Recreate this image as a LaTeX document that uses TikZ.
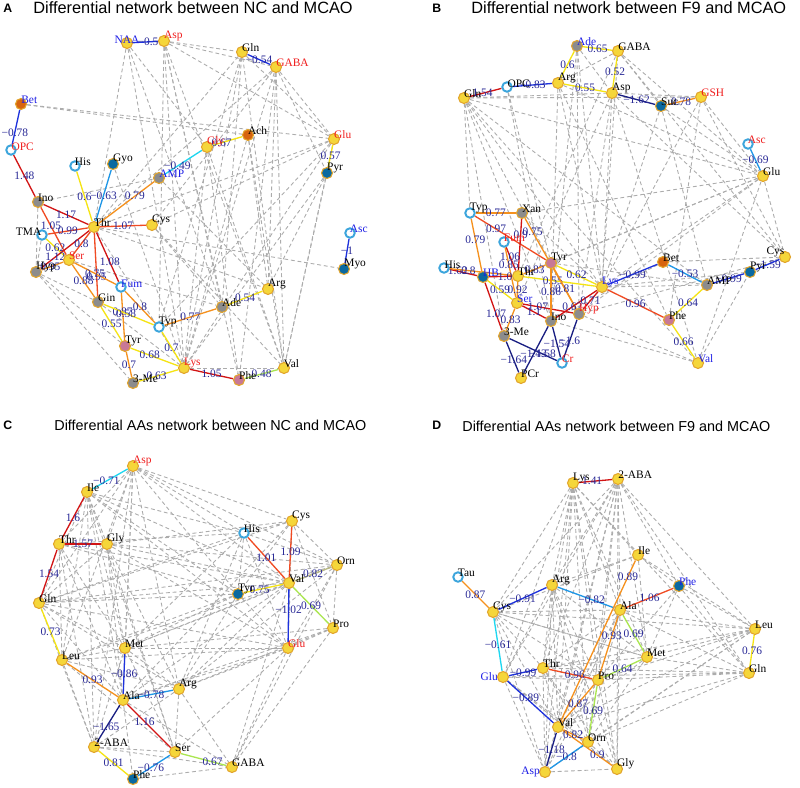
\documentclass[tikz,border=0pt]{standalone}
\usepackage{fontspec}
\setmainfont{Liberation Serif}
\setsansfont{Liberation Sans}
\usepackage{xcolor}
\usepackage{tikz}
\usetikzlibrary{backgrounds}

\definecolor{nodeyel}{RGB}{245,214,58}
\definecolor{nodeedge}{RGB}{226,165,45}
\definecolor{nodering}{RGB}{60,165,220}
\definecolor{nodegray}{RGB}{140,140,140}
\definecolor{nodeblue}{RGB}{10,105,160}
\definecolor{nodeorg}{RGB}{215,100,15}
\definecolor{nodepink}{RGB}{200,120,150}
\definecolor{labred}{RGB}{240,30,30}
\definecolor{labblue}{RGB}{30,30,230}
\definecolor{valblue}{RGB}{40,40,150}
\definecolor{ered}{RGB}{210,20,20}
\definecolor{eredorg}{RGB}{240,75,35}
\definecolor{eorg}{RGB}{245,145,30}
\definecolor{eyel}{RGB}{245,228,20}
\definecolor{egreen}{RGB}{170,230,80}
\definecolor{eolive}{RGB}{185,185,130}
\definecolor{ecyan}{RGB}{30,215,240}
\definecolor{elblue}{RGB}{30,150,230}
\definecolor{eblue}{RGB}{30,50,220}
\definecolor{enavy}{RGB}{25,30,130}

\begin{document}
\begin{tikzpicture}[
  x=0.02cm, y=-0.02cm,
  met/.style={circle, draw=nodeedge, line width=0.6pt, minimum size=0.22cm, inner sep=0pt},
  ny/.style={met, fill=nodeyel},
  ng/.style={met, fill=nodegray},
  nb/.style={met, fill=nodeblue},
  no/.style={met, fill=nodeorg},
  np/.style={met, fill=nodepink},
  nr/.style={met, draw=nodering, line width=1.1pt, fill=white, minimum size=0.19cm},
  every label/.style={font=\fontsize{6.5}{7}\selectfont, inner sep=0.3pt},
  label position=45, label distance=-4pt,
  lr/.style={text=labred}, lb/.style={text=labblue},
  gl/.style={draw=gray!65, line width=0.5pt, dash pattern=on 2.2pt off 1.6pt},
  cor/.style={line width=0.75pt},
  val/.style={font=\fontsize{6.5}{7}\selectfont, text=valblue, inner sep=0.5pt},
  title/.style={font=\sffamily\fontsize{9.3}{10}\selectfont, anchor=base west, inner sep=0pt},
  subtitle/.style={font=\sffamily\fontsize{8.2}{9}\selectfont, anchor=base west, inner sep=0pt},
  tag/.style={font=\sffamily\bfseries\fontsize{7}{8}\selectfont, anchor=base west, inner sep=0pt}
]
\useasboundingbox (0,0) rectangle (800,787);

% Titles
\node[tag] (tagA) at (3,13) {A};
\node[title] (ttlA) at (33,14) {Differential network between NC and MCAO};
\node[tag] (tagB) at (432,13) {B};
\node[title] (ttlB) at (471,14) {Differential network between F9 and MCAO};
\node[tag] (tagC) at (3,429) {C};
\node[subtitle] (ttlC) at (54,430) {Differential AAs network between NC and MCAO};
\node[tag] (tagD) at (432,429) {D};
\node[subtitle] (ttlD) at (462,431) {Differential AAs network between F9 and MCAO};

% Panel A nodes
\node[ny, label={[lb]90:NAA}] (aNAA) at (127,43) {};
\node[ny, label={[lr]Asp}] (aAsp) at (164,41) {};
\node[ny, label={Gln}] (aGln) at (242,52) {};
\node[ny, label={[lr]60:GABA}] (aGABA) at (276,67) {};
\node[no, label={[lb]60:Bet}] (aBet) at (21,104) {};
\node[nr, label={[lr]75:OPC}] (aOPC) at (11,150) {};
\node[no, label={Ach}] (aAch) at (248,135) {};
\node[ny, label={[lr]30:Gly}] (aGly) at (207,147) {};
\node[ny, label={[lr]Glu}] (aGlu) at (334,139) {};
\node[nr, label={His}] (aHis) at (75,166) {};
\node[nb, label={Gyo}] (aGyo) at (113,164) {};
\node[ng, label={[lb]60:AMP}] (aAMP) at (159,178) {};
\node[nb, label={Pyr}] (aPyr) at (327,173) {};
\node[ng, label={Ino}] (aIno) at (38,202) {};
\node[ny, label={Thr}] (aThr) at (94,227) {};
\node[ny, label={Cys}] (aCys) at (152,225) {};
\node[nr, label={100:TMA}] (aTMA) at (42,235) {};
\node[ny, label={[lr]30:Ser}] (aSer) at (69,260) {};
\node[ng, label={60:Hyp}] (aHyp) at (36,272) {};
\node[nr, label={[lb]60:Fum}] (aFum) at (121,287) {};
\node[ng, label={Gin}] (aGin) at (98,302) {};
\node[nr, label={Typ}] (aTyp) at (159,327) {};
\node[ng, label={Ade}] (aAde) at (222,307) {};
\node[ny, label={Arg}] (aArg) at (268,289) {};
\node[np, label={Tyr}] (aTyr) at (125,346) {};
\node[ng, label={3-Me}] (aMe) at (133,383) {};
\node[ny, label={[lr]Lys}] (aLys) at (184,368) {};
\node[np, label={Phe}] (aPhe) at (239,380) {};
\node[ny, label={15:Val}] (aVal) at (284,368) {};
\node[nr, label={[lb]Asc}] (aAsc) at (350,233) {};
\node[nb, label={60:Myo}] (aMyo) at (344,269) {};

% Panel B nodes
\node[ng, label={[lb]Ade}] (bAde) at (577,46) {};
\node[ny, label={60:GABA}] (bGABA) at (618,51) {};
\node[nr, label={75:OPC}] (bOPC) at (507,87) {};
\node[ny, label={Arg}] (bArg) at (558,83) {};
\node[ny, label={Gln}] (bGln) at (464,98) {};
\node[ny, label={Asp}] (bAsp) at (612,93) {};
\node[nb, label={Suc}] (bSuc) at (661,106) {};
\node[ny, label={[lr]60:GSH}] (bGSH) at (701,97) {};
\node[nr, label={[lr]Asc}] (bAsc) at (748,144) {};
\node[ny, label={Glu}] (bGlu) at (763,176) {};
\node[nr, label={Typ}] (bTyp) at (470,213) {};
\node[ng, label={Xan}] (bXan) at (522,213) {};
\node[nr, label={[lr]Fum}] (bFum) at (504,242) {};
\node[np, label={Tyr}] (bTyr) at (551,263) {};
\node[nr, label={75:His}] (bHis) at (444,268) {};
\node[nb, label={[lb]HB}] (bHB) at (483,277) {};
\node[ny, label={Thr}] (bThr) at (518,276) {};
\node[ny, label={[lb]Lys}] (bLys) at (602,287) {};
\node[no, label={Bet}] (bBet) at (663,262) {};
\node[ng, label={AMP}] (bAMP) at (707,285) {};
\node[nb, label={Pyr}] (bPyr) at (750,272) {};
\node[ny, label={100:Cys}] (bCys) at (785,257) {};
\node[ny, label={[lb]Ser}] (bSer) at (517,303) {};
\node[ng, label={[lr]Hyp}] (bHyp) at (579,314) {};
\node[ng, label={Ino}] (bIno) at (551,321) {};
\node[ng, label={3-Me}] (bMe) at (504,336) {};
\node[np, label={Phe}] (bPhe) at (669,320) {};
\node[nr, label={[lr]Cr}] (bCr) at (562,363) {};
\node[ny, label={PCr}] (bPCr) at (521,378) {};
\node[ny, label={[lb]Val}] (bVal) at (698,363) {};

% Panel C nodes
\node[ny, label={[lr]Asp}] (cAsp) at (133,466) {};
\node[ny, label={Ile}] (cIle) at (87,492) {};
\node[ny, label={Cys}] (cCys) at (292,521) {};
\node[nr, label={His}] (cHis) at (244,533) {};
\node[ny, label={Thr}] (cThr) at (59,544) {};
\node[ny, label={Gly}] (cGly) at (107,544) {};
\node[ny, label={Orn}] (cOrn) at (337,565) {};
\node[ny, label={Val}] (cVal) at (289,583) {};
\node[nb, label={Tyr}] (cTyr) at (238,594) {};
\node[ny, label={Gln}] (cGln) at (39,603) {};
\node[ny, label={Pro}] (cPro) at (333,628) {};
\node[ny, label={[lr]Glu}] (cGlu) at (288,648) {};
\node[ny, label={Met}] (cMet) at (125,648) {};
\node[ny, label={Leu}] (cLeu) at (62,660) {};
\node[ny, label={Arg}] (cArg) at (179,689) {};
\node[ny, label={Ala}] (cAla) at (123,700) {};
\node[ny, label={60:2-ABA}] (cABA) at (94,747) {};
\node[ny, label={Ser}] (cSer) at (175,752) {};
\node[ny, label={GABA}] (cGABA) at (232,767) {};
\node[nb, label={Phe}] (cPhe) at (133,779) {};

% Panel D nodes
\node[ny, label={Lys}] (dLys) at (573,483) {};
\node[ny, label={60:2-ABA}] (dABA) at (618,479) {};
\node[ny, label={Ile}] (dIle) at (638,555) {};
\node[nr, label={Tau}] (dTau) at (458,577) {};
\node[ny, label={Arg}] (dArg) at (552,585) {};
\node[nb, label={[lb]Phe}] (dPhe) at (679,586) {};
\node[ny, label={Cys}] (dCys) at (493,612) {};
\node[ny, label={Ala}] (dAla) at (620,610) {};
\node[ny, label={Leu}] (dLeu) at (755,629) {};
\node[ny, label={Met}] (dMet) at (647,657) {};
\node[ny, label={Gln}] (dGln) at (749,673) {};
\node[ny, label={Thr}] (dThr) at (543,668) {};
\node[ny, label={[lb, xshift=-3pt]180:Glu}] (dGlu) at (503,677) {};
\node[ny, label={Pro}] (dPro) at (598,680) {};
\node[ny, label={Val}] (dVal) at (558,727) {};
\node[ny, label={Orn}] (dOrn) at (588,742) {};
\node[ny, label={[lb, xshift=-3pt]180:Asp}] (dAsp) at (545,772) {};
\node[ny, label={Gly}] (dGly) at (617,769) {};

\begin{scope}[on background layer]
\fill[white] (0,0) rectangle (800,787);

% Uncorrelated pairs (grey dashed)
\foreach \a/\b in {aNAA/aGly, aNAA/aLys, aNAA/aThr, aNAA/aAde, aAsp/aGln, aAsp/aGABA, aAsp/aLys, aAsp/aAde,
  aAsp/aVal, aAsp/aPhe, aAsp/aGlu, aAsp/aTyp, aGln/aGlu, aGln/aLys, aGln/aVal, aGln/aAde, aGln/aThr, aGln/aTyp,
  aGABA/aGlu, aGABA/aPyr, aGABA/aVal, aGABA/aArg, aGABA/aLys, aGABA/aThr, aGABA/aPhe, aGABA/aCys,
  aBet/aAch, aBet/aGlu, aAch/aVal, aAch/aArg, aAch/aLys, aGlu/aThr, aGlu/aLys, aGlu/aVal, aGlu/aTyp, aGlu/aCys,
  aPyr/aLys, aPyr/aVal, aPyr/aArg, aThr/aMyo, aThr/aLys, aThr/aArg, aIno/aHyp, aIno/aAMP, aHyp/aMe, aHyp/aTyr,
  aHyp/aGin, aTMA/aHyp, aGin/aLys, aSer/aAde, aGly/aLys, aGly/aVal, aGly/aPhe, aAMP/aArg, aGyo/aLys, aCys/aVal,
  aLys/aVal, aCys/aAde}
  \draw[gl] (\a) -- (\b);
\foreach \a/\b in {bGln/bGlu, bGln/bLys, bGln/bTyr, bGln/bMe, bGln/bIno, bGln/bAMP, bGln/bVal, bGln/bGSH, bGln/bAsp,
  bAde/bLys, bAde/bIno, bAde/bAsp, bAde/bHyp, bGABA/bLys, bGABA/bThr, bGABA/bGlu, bGABA/bCys, bGABA/bArg, bGABA/bSuc,
  bArg/bLys, bArg/bIno, bArg/bPhe, bArg/bGlu, bAsp/bLys, bAsp/bVal, bAsp/bCys, bAsp/bSer, bAsp/bHyp, bAsp/bGSH,
  bGSH/bGlu, bGSH/bLys, bGSH/bPhe, bGSH/bCys, bGlu/bLys, bGlu/bCys, bGlu/bThr, bGlu/bVal, bGlu/bHyp, bGlu/bTyr,
  bSuc/bGlu, bSuc/bLys, bSuc/bAMP, bTyr/bAMP, bXan/bGlu, bBet/bCys, bBet/bIno, bVal/bPyr, bVal/bHyp, bVal/bIno,
  bLys/bAMP, bLys/bPyr, bCys/bHyp, bXan/bLys, bOPC/bTyr, bOPC/bIno, bTyp/bGln}
  \draw[gl] (\a) -- (\b);
\foreach \a/\b in {cAsp/cGly, cAsp/cThr, cAsp/cGln, cAsp/cLeu, cAsp/cMet, cAsp/cAla, cAsp/cCys, cAsp/cHis, cAsp/cVal,
  cAsp/cOrn, cAsp/cTyr, cAsp/cArg, cAsp/cABA, cIle/cGly, cIle/cGln, cIle/cLeu, cIle/cMet, cIle/cAla, cIle/cHis,
  cIle/cVal, cIle/cTyr, cIle/cGlu, cIle/cABA, cIle/cSer, cThr/cLeu, cThr/cMet, cThr/cAla, cThr/cHis, cThr/cVal,
  cThr/cTyr, cThr/cABA, cGly/cGln, cGly/cMet, cGly/cAla, cGly/cCys, cGly/cOrn, cGly/cVal, cGly/cGlu, cGly/cSer,
  cGly/cArg, cCys/cHis, cCys/cOrn, cCys/cPro, cCys/cGlu, cCys/cAla, cCys/cTyr, cCys/cGln, cHis/cOrn, cHis/cTyr,
  cHis/cGlu, cHis/cArg, cHis/cMet, cHis/cGln, cOrn/cPro, cOrn/cGlu, cOrn/cTyr, cOrn/cArg, cOrn/cMet, cOrn/cGln,
  cOrn/cGABA, cVal/cMet, cVal/cArg, cVal/cAla, cVal/cGABA, cVal/cGln, cVal/cLeu, cTyr/cGlu, cTyr/cMet, cTyr/cArg,
  cTyr/cLeu, cTyr/cGln, cGln/cMet, cGln/cAla, cGln/cABA, cGln/cGlu, cGln/cArg, cPro/cGlu, cPro/cArg, cPro/cGABA,
  cPro/cAla, cPro/cMet, cGlu/cArg, cGlu/cMet, cGlu/cGABA, cGlu/cSer, cGlu/cAla, cMet/cLeu, cMet/cArg, cMet/cSer,
  cMet/cABA, cLeu/cABA, cLeu/cArg, cLeu/cSer, cLeu/cGlu, cArg/cABA, cArg/cSer, cArg/cGABA, cAla/cGABA, cAla/cPhe,
  cABA/cSer, cABA/cGABA, cPhe/cGABA}
  \draw[gl] (\a) -- (\b);
\foreach \a/\b in {dLys/dCys, dLys/dArg, dLys/dThr, dLys/dGlu, dLys/dPro, dLys/dVal, dLys/dOrn, dLys/dAsp, dLys/dGly,
  dLys/dMet, dLys/dGln, dLys/dAla, dLys/dIle, dABA/dArg, dABA/dThr, dABA/dGlu, dABA/dPro, dABA/dVal, dABA/dOrn,
  dABA/dAsp, dABA/dGly, dABA/dLeu, dABA/dGln, dABA/dMet, dABA/dPhe, dABA/dAla, dABA/dCys, dIle/dArg, dIle/dMet,
  dIle/dCys, dIle/dLeu, dIle/dPhe, dArg/dThr, dArg/dGlu, dArg/dPro, dArg/dVal, dArg/dOrn, dArg/dAsp, dArg/dGly,
  dArg/dMet, dCys/dThr, dCys/dAla, dCys/dLeu, dCys/dPro, dCys/dVal, dCys/dAsp, dCys/dMet, dAla/dThr, dAla/dLeu,
  dAla/dGln, dAla/dVal, dAla/dOrn, dAla/dAsp, dAla/dGly, dPhe/dLeu, dPhe/dMet, dPhe/dGln, dPhe/dPro, dLeu/dMet,
  dLeu/dThr, dLeu/dVal, dLeu/dOrn, dLeu/dAsp, dLeu/dPro, dGln/dMet, dGln/dPro, dGln/dVal, dGln/dOrn, dGln/dThr,
  dGln/dGlu, dMet/dThr, dMet/dVal, dMet/dOrn, dMet/dCys, dThr/dVal, dThr/dOrn, dThr/dAsp, dThr/dGly, dGlu/dPro,
  dGlu/dAsp, dGlu/dOrn, dGlu/dGly, dPro/dAsp, dPro/dGly, dAsp/dGly, dOrn/dGly}
  \draw[gl] (\a) -- (\b);

% Panel A differential pairs
\draw[cor, eblue] (aNAA) -- node[val, pos=0.6] {−0.5} (aAsp);
\draw[cor, eblue] (aGln) -- node[val] {−0.54} (aGABA);
\draw[cor, eblue] (aBet) -- node[val, pos=0.65] {−0.78} (aOPC);
\draw[cor, ered] (aOPC) -- node[val] {1.48} (aIno);
\draw[cor, eyel] (aGly) -- node[val, pos=0.3] {0.67} (aAch);
\draw[cor, ecyan] (aAMP) -- node[val, pos=0.35] {−0.49} (aGly);
\draw[cor, eyel] (aGlu) -- node[val] {0.57} (aPyr);
\draw[cor, eyel] (aHis) -- node[val] {0.6} (aThr);
\draw[cor, elblue] (aGyo) -- node[val] {−0.63} (aThr);
\draw[cor, eorg] (aAMP) -- node[val, pos=0.35] {0.79} (aThr);
\draw[cor, ered] (aIno) -- node[val] {1.17} (aThr);
\draw[cor, eredorg] (aIno) -- node[val, pos=0.4] {1.05} (aSer);
\draw[cor, eredorg] (aTMA) -- node[val] {0.99} (aThr);
\draw[cor, eyel] (aTMA) -- node[val] {0.62} (aSer);
\draw[cor, ered] (aHyp) -- node[val, pos=0.3] {1.12} (aThr);
\draw[cor, eorg] (aHyp) -- node[val, pos=0.4] {0.95} (aSer);
\draw[cor, eredorg] (aThr) -- node[val] {0.8} (aSer);
\draw[cor, eredorg] (aThr) -- node[val] {1.07} (aCys);
\draw[cor, ered] (aThr) -- node[val, pos=0.6] {1.08} (aFum);
\draw[cor, eredorg] (aThr) -- node[val, pos=0.7] {0.95} (aGin);
\draw[cor, eorg] (aSer) -- node[val] {0.88} (aGin);
\draw[cor, eorg] (aSer) -- node[val] {0.75} (aFum);
\draw[cor, eorg] (aFum) -- node[val] {0.8} (aTyp);
\draw[cor, eorg] (aFum) -- node[val, pos=0.4] {0.87} (aTyr);
\draw[cor, eyel] (aGin) -- node[val, pos=0.45] {0.58} (aTyp);
\draw[cor, eyel] (aGin) -- node[val] {0.55} (aTyr);
\draw[cor, eorg] (aTyr) -- node[val] {0.7} (aMe);
\draw[cor, eyel] (aTyr) -- node[val, pos=0.4] {0.68} (aLys);
\draw[cor, eyel] (aMe) -- node[val, pos=0.45] {0.63} (aLys);
\draw[cor, eyel] (aTyp) -- node[val] {0.7} (aLys);
\draw[cor, eorg] (aTyp) -- node[val] {0.77} (aAde);
\draw[cor, eyel] (aAde) -- node[val] {0.54} (aArg);
\draw[cor, ered] (aLys) -- node[val] {1.05} (aPhe);
\draw[cor, egreen] (aPhe) -- node[val] {0.48} (aVal);
\draw[cor, eblue] (aAsc) -- node[val] {−1} (aMyo);

% Panel B differential pairs
\draw[cor, eyel] (bAde) -- node[val] {0.65} (bGABA);
\draw[cor, eyel] (bAde) -- node[val] {0.6} (bArg);
\draw[cor, eyel] (bGABA) -- node[val] {0.52} (bAsp);
\draw[cor, ered] (bGln) -- node[val, pos=0.4] {1.54} (bOPC);
\draw[cor, eblue] (bOPC) -- node[val] {−0.83} (bArg);
\draw[cor, eyel] (bArg) -- node[val] {0.55} (bAsp);
\draw[cor, enavy] (bAsp) -- node[val] {−1.62} (bSuc);
\draw[cor, eorg] (bSuc) -- node[val] {0.78} (bGSH);
\draw[cor, elblue] (bAsc) -- node[val] {−0.69} (bGlu);
\draw[cor, eorg] (bTyp) -- node[val] {0.77} (bXan);
\draw[cor, eredorg] (bTyp) -- node[val, pos=0.3] {0.97} (bTyr);
\draw[cor, eorg] (bTyp) -- node[val, pos=0.4] {0.79} (bHB);
\draw[cor, ered] (bXan) -- node[val, pos=0.3] {0.9} (bThr);
\draw[cor, eorg] (bXan) -- node[val, pos=0.15] {0.75} (bHyp);
\draw[cor, ered] (bFum) -- node[val, pos=0.4] {1.06} (bThr);
\draw[cor, eorg] (bFum) -- node[val, pos=0.35] {0.85} (bSer);
\draw[cor, ered] (bHis) -- node[val, pos=0.3] {1.62} (bHB);
\draw[cor, eorg] (bHis) -- node[val, pos=0.3] {0.8} (bThr);
\draw[cor, ered] (bHB) -- node[val, pos=0.7] {1.0} (bThr);
\draw[cor, eorg] (bThr) -- node[val] {0.83} (bTyr);
\draw[cor, eyel] (bThr) -- node[val, pos=0.4] {0.55} (bLys);
\draw[cor, eyel] (bTyr) -- node[val] {0.62} (bLys);
\draw[cor, eorg] (bThr) -- node[val] {0.92} (bSer);
\draw[cor, eyel] (bHB) -- node[val] {0.59} (bSer);
\draw[cor, ered] (bHB) -- node[val, pos=0.65] {1.07} (bMe);
\draw[cor, eorg] (bSer) -- node[val] {0.83} (bMe);
\draw[cor, ered] (bSer) -- node[val, pos=0.3] {1.07} (bHyp);
\draw[cor, ered] (bSer) -- node[val] {1.1} (bIno);
\draw[cor, eorg] (bTyr) -- node[val] {0.86} (bIno);
\draw[cor, eorg] (bTyr) -- node[val] {0.81} (bHyp);
\draw[cor, ered] (bLys) -- node[val, pos=0.6] {0.62} (bIno);
\draw[cor, ered] (bLys) -- node[val] {0.71} (bHyp);
\draw[cor, eblue] (bLys) -- node[val] {−0.99} (bBet);
\draw[cor, eredorg] (bLys) -- node[val] {0.96} (bPhe);
\draw[cor, elblue] (bBet) -- node[val] {−0.53} (bAMP);
\draw[cor, eblue] (bAMP) -- node[val] {−0.99} (bPyr);
\draw[cor, eblue] (bPyr) -- node[val] {−1.59} (bCys);
\draw[cor, eyel] (bAMP) -- node[val] {0.64} (bPhe);
\draw[cor, eyel] (bPhe) -- node[val] {0.66} (bVal);
\draw[cor, enavy] (bMe) -- node[val, pos=0.6] {−1.64} (bPCr);
\draw[cor, enavy] (bMe) -- node[val, pos=0.7] {−1.58} (bCr);
\draw[cor, enavy] (bIno) -- node[val, pos=0.6] {−1.43} (bPCr);
\draw[cor, enavy] (bIno) -- node[val, pos=0.55] {−1.54} (bCr);
\draw[cor, enavy] (bHyp) -- node[val, pos=0.55] {−1.6} (bCr);

% Panel C differential pairs
\draw[cor, ecyan] (cAsp) -- node[val, pos=0.6] {−0.71} (cIle);
\draw[cor, ered] (cIle) -- node[val] {1.6} (cThr);
\draw[cor, ered] (cThr) -- node[val] {1.57} (cGly);
\draw[cor, ered] (cThr) -- node[val] {1.54} (cGln);
\draw[cor, eredorg] (cHis) -- node[val] {1.01} (cVal);
\draw[cor, eredorg] (cCys) -- node[val] {1.09} (cVal);
\draw[cor, eolive] (cVal) -- node[val] {0.82} (cOrn);
\draw[cor, eyel] (cTyr) -- node[val, pos=0.4] {0.75} (cVal);
\draw[cor, eblue] (cVal) -- node[val, pos=0.4] {−1.02} (cGlu);
\draw[cor, egreen] (cVal) -- node[val] {0.69} (cPro);
\draw[cor, eyel] (cGln) -- node[val] {0.73} (cLeu);
\draw[cor, eorg] (cLeu) -- node[val] {0.93} (cAla);
\draw[cor, eblue] (cMet) -- node[val] {−0.86} (cAla);
\draw[cor, elblue] (cAla) -- node[val] {−0.78} (cArg);
\draw[cor, enavy] (cAla) -- node[val, pos=0.6] {−1.65} (cABA);
\draw[cor, ered] (cAla) -- node[val, pos=0.4] {1.16} (cSer);
\draw[cor, eyel] (cABA) -- node[val] {0.81} (cPhe);
\draw[cor, elblue] (cPhe) -- node[val, pos=0.4] {−0.76} (cSer);
\draw[cor, egreen] (cSer) -- node[val, pos=0.7] {0.67} (cGABA);

% Panel D differential pairs
\draw[cor, ered] (dLys) -- node[val, pos=0.4] {1.41} (dABA);
\draw[cor, eorg] (dTau) -- node[val] {0.87} (dCys);
\draw[cor, eblue] (dCys) -- node[val] {−0.91} (dArg);
\draw[cor, elblue] (dArg) -- node[val, pos=0.6] {−0.82} (dAla);
\draw[cor, eredorg] (dAla) -- node[val] {1.06} (dPhe);
\draw[cor, eorg] (dIle) -- node[val, pos=0.1] {0.89} (dVal);
\draw[cor, eorg] (dAla) -- node[val, pos=0.35] {0.93} (dPro);
\draw[cor, egreen] (dAla) -- node[val] {0.69} (dMet);
\draw[cor, egreen] (dMet) -- node[val] {0.64} (dPro);
\draw[cor, eredorg] (dThr) -- node[val, pos=0.6] {0.96} (dPro);
\draw[cor, eblue] (dGlu) -- node[val] {−0.99} (dThr);
\draw[cor, ecyan] (dCys) -- node[val] {−0.61} (dGlu);
\draw[cor, eblue] (dGlu) -- node[val, pos=0.4] {−0.89} (dVal);
\draw[cor, eorg] (dPro) -- node[val] {0.87} (dVal);
\draw[cor, egreen] (dPro) -- node[val] {0.69} (dOrn);
\draw[cor, eorg] (dVal) -- node[val, pos=0.7] {0.9} (dGly);
\draw[cor, eorg] (dVal) -- node[val] {0.82} (dOrn);
\draw[cor, enavy] (dVal) -- node[val] {−1.18} (dAsp);
\draw[cor, elblue] (dAsp) -- node[val] {−0.8} (dOrn);
\draw[cor, eyel] (dLeu) -- node[val] {0.76} (dGln);
\end{scope}
\end{tikzpicture}
\end{document}
